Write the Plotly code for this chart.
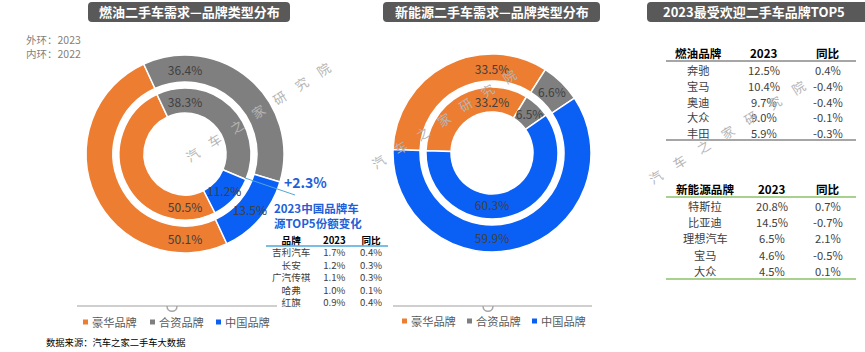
import math
import plotly.graph_objects as go

W, H = 865, 352
FONT = "Microsoft YaHei, Noto Sans CJK SC, sans-serif"

# ---------------- data ----------------
categories = ['豪华品牌', '合资品牌', '中国品牌']
colors = ['#ED7D31', '#7F7F7F', '#0A5FF5']

fuel_outer_2023 = [50.1, 36.4, 13.5]
fuel_inner_2022 = [50.5, 38.3, 11.2]
nev_outer_2023 = [33.5, 6.6, 59.9]
nev_inner_2022 = [33.2, 6.5, 60.3]

cn_top5_brands = ['吉利汽车', '长安', '广汽传祺', '哈弗', '红旗']
cn_top5_share = [1.7, 1.2, 1.1, 1.0, 0.9]
cn_top5_yoy = [0.4, 0.3, 0.3, 0.1, 0.4]

fuel_top5_brands = ['奔驰', '宝马', '奥迪', '大众', '丰田']
fuel_top5_share = [12.5, 10.4, 9.7, 9.0, 5.9]
fuel_top5_yoy = [0.4, -0.4, -0.4, -0.1, -0.3]

nev_top5_brands = ['特斯拉', '比亚迪', '理想汽车', '宝马', '大众']
nev_top5_share = [20.8, 14.5, 6.5, 4.6, 4.5]
nev_top5_yoy = [0.7, -0.7, 2.1, -0.5, 0.1]

titles = ['燃油二手车需求—品牌类型分布', '新能源二手车需求—品牌类型分布', '2023最受欢迎二手车品牌TOP5']
table_headers = ['品牌', '2023', '同比']
watermark = '汽车之家研究院'


# ---------------- helpers (pixel -> paper) ----------------
def X(p):
    return p / W


def Y(p):
    return 1 - p / H


def pct(v, sign=False):
    return (f'{v:+.1f}%' if sign else f'{v:.1f}%')


fig = go.Figure()


def donut(values, cx, cy, R, r_hole, rotation):
    fig.add_trace(go.Pie(
        values=values, labels=categories, sort=False, direction='clockwise',
        rotation=rotation, hole=r_hole / R,
        domain=dict(x=[X(cx - R), X(cx + R)], y=[Y(cy + R), Y(cy - R)]),
        marker=dict(colors=colors, line=dict(color='white', width=1.5)),
        texttemplate='%{value:.1f}%', textposition='inside',
        insidetextorientation='horizontal',
        textfont=dict(size=12, color='#404040', family=FONT),
        showlegend=False, hoverinfo='label+value'))


# left donut (fuel)
donut(fuel_outer_2023, 185, 154, 99, 72, 155)
donut(fuel_inner_2022, 185, 154, 66, 41, 153)
# middle donut (NEV)
donut(nev_outer_2023, 492, 153, 99, 72, -88)
donut(nev_inner_2022, 492, 153, 66, 41, -88)

shapes = []
ann = []


def text(x, y, s, size=12, color='#404040', xanchor='center', bold=False, angle=0, family=FONT):
    ann.append(dict(x=X(x), y=Y(y), xref='paper', yref='paper', text=(f'<b>{s}</b>' if bold else s),
                    showarrow=False, xanchor=xanchor, yanchor='middle', textangle=angle,
                    borderpad=0, align='center' if xanchor == 'center' else 'left',
                    font=dict(size=size, color=color, family=family)))


def line(x0, y0, x1, y1, color, width=1.5):
    shapes.append(dict(type='line', xref='paper', yref='paper', x0=X(x0), y0=Y(y0), x1=X(x1), y1=Y(y1),
                       line=dict(color=color, width=width)))


def rounded_bar(x0, y0, x1, y1, r=4, color='#595959'):
    p = (f'M {X(x0 + r)} {Y(y0)} L {X(x1 - r)} {Y(y0)} Q {X(x1)} {Y(y0)} {X(x1)} {Y(y0 + r)} '
         f'L {X(x1)} {Y(y1 - r)} Q {X(x1)} {Y(y1)} {X(x1 - r)} {Y(y1)} '
         f'L {X(x0 + r)} {Y(y1)} Q {X(x0)} {Y(y1)} {X(x0)} {Y(y1 - r)} '
         f'L {X(x0)} {Y(y0 + r)} Q {X(x0)} {Y(y0)} {X(x0 + r)} {Y(y0)} Z')
    shapes.append(dict(type='path', xref='paper', yref='paper', path=p, fillcolor=color,
                       line=dict(width=0)))


# title bars
bars = [(88, 2, 290, 22), (383, 2, 600, 22), (647, 2, 872, 22)]
for (x0, y0, x1, y1), t in zip(bars, titles):
    rounded_bar(x0, y0, x1, y1)
    cx = (x0 + x1) / 2 if x1 <= W else (x0 + W) / 2 - 2
    text(cx, 12, t, size=13, color='white', bold=True)

# ring notes
text(25, 46.5, '外环：2023<br>内环：2022', size=10.5, color='#7F7F7F', xanchor='left')

# China brand change callout
cn_change = fuel_outer_2023[2] - fuel_inner_2022[2]
line(245, 178, 295, 195, '#4FA8DC', 1)
text(283, 182, pct(cn_change, sign=True), size=14, color='#1F5FD8', xanchor='left', bold=True)
text(273, 215.5, '2023中国品牌车<br>源TOP5份额变化', size=11.5, color='#1F5FD8', xanchor='left', bold=True)


def column(x, y_center, header, items, size, header_color='#000000'):
    body = [f'<b><span style="color:{header_color}">{header}</span></b>'] + list(items)
    text(x, y_center, '<br>'.join(body), size=size, color='#404040')


# small table (China brands), rows spaced by font line height
cols = [291, 334, 371]
sm_size = 9.6
sm_center = 240 + (len(cn_top5_brands) * 1.3 * sm_size) / 2
column(cols[0], sm_center, table_headers[0], cn_top5_brands, sm_size)
column(cols[1], sm_center, table_headers[1], [pct(v) for v in cn_top5_share], sm_size)
column(cols[2], sm_center, table_headers[2], [pct(v) for v in cn_top5_yoy], sm_size)
line(266, 246, 388, 246, '#4FA8DC', 1.5)


# legends
def legend(x_line0, x_line1, notch_x, sq_x, yl):
    line(x_line0, 306, x_line1, 306, '#BFBFBF', 1.5)
    p = (f'M {X(notch_x - 5)} {Y(306)} C {X(notch_x - 5)} {Y(313)} {X(notch_x + 5)} {Y(313)} '
         f'{X(notch_x + 5)} {Y(306)}')
    shapes.append(dict(type='path', xref='paper', yref='paper', path=p,
                       line=dict(color='#A6A6A6', width=1.5)))
    for sx, cat, col in zip(sq_x, categories, colors):
        shapes.append(dict(type='rect', xref='paper', yref='paper', x0=X(sx), x1=X(sx + 5),
                           y0=Y(yl + 2.5), y1=Y(yl - 2.5), fillcolor=col, line=dict(width=0)))
        text(sx + 7.5, yl, cat, size=11.2, color='#595959', xanchor='left')


legend(77, 277, 172, [83, 150, 216], 322)
legend(393, 592, 488, [402, 467, 532], 321)

text(45, 342, '数据来源：汽车之家二手车大数据', size=9.3, color='#000000', xanchor='left')


# right tables: one text per cell
def table(header0, brands, shares, yoys, cols, hy, row0, dy, line_y0, line_y1, lc, size=11.2):
    for c, h in zip(cols, [header0] + table_headers[1:]):
        text(c, hy, h, size=11.6, color='#000000', bold=True)
    for i, (b, s, y) in enumerate(zip(brands, shares, yoys)):
        yy = row0 + i * dy
        text(cols[0], yy, b, size=size)
        text(cols[1], yy, pct(s), size=size)
        text(cols[2], yy, pct(y), size=size)
    line(666, line_y0, 856, line_y0, lc, 2)
    line(666, line_y1, 856, line_y1, lc, 2)


table('燃油品牌', fuel_top5_brands, fuel_top5_share, fuel_top5_yoy,
      [698, 764, 828], 53, 70, 15.8, 61, 140, '#A6A6A6')
table('新能源品牌', nev_top5_brands, nev_top5_share, nev_top5_yoy,
      [705, 772, 828], 189, 205.5, 16.4, 197, 279, '#A9D18E')


# watermarks: characters laid along a rising diagonal, centred on the 4th char
def wm(cx, cy, step=26, deg=33):
    dx, dy = step * math.cos(math.radians(deg)), -step * math.sin(math.radians(deg))
    for k, ch in enumerate(watermark):
        o = k - 3
        text(cx + o * dx, cy + o * dy, ch, size=13, color='#B5B5B5', angle=-deg)


wm(258, 112)
wm(444, 119)
wm(727, 132, step=28, deg=32)

fig.update_layout(width=W, height=H, autosize=False, margin=dict(l=0, r=0, t=0, b=0),
                  paper_bgcolor='white', plot_bgcolor='white', shapes=shapes, annotations=ann,
                  uniformtext=dict(mode='show', minsize=12), font=dict(family=FONT))
fig.write_html('out.html')
